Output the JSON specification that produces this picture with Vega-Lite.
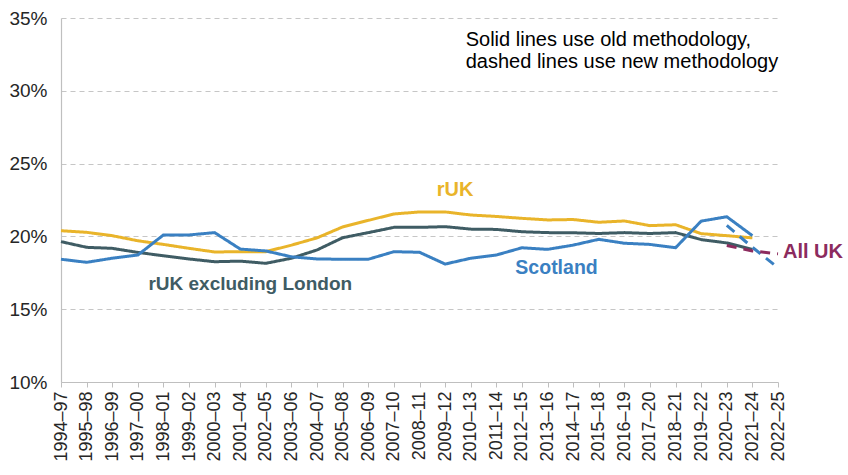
{
  "$schema": "https://vega.github.io/schema/vega-lite/v6.json",
  "autosize": {"type": "none"},
  "padding": {"left": 61, "top": 18, "right": 70, "bottom": 93},
  "width": 717,
  "height": 364,
  "background": "white",
  "config": {
    "view": {"stroke": null},
    "font": "Liberation Sans",
    "axis": {"labelFont": "Liberation Sans", "titleFont": "Liberation Sans"}
  },
  "data": {"values": [
      {"year": "1994–97", "series": "rUK", "method": "old", "value": 20.39},
      {"year": "1995–98", "series": "rUK", "method": "old", "value": 20.28},
      {"year": "1996–99", "series": "rUK", "method": "old", "value": 20.05},
      {"year": "1997–00", "series": "rUK", "method": "old", "value": 19.7},
      {"year": "1998–01", "series": "rUK", "method": "old", "value": 19.45},
      {"year": "1999–02", "series": "rUK", "method": "old", "value": 19.18},
      {"year": "2000–03", "series": "rUK", "method": "old", "value": 18.93},
      {"year": "2001–04", "series": "rUK", "method": "old", "value": 18.95},
      {"year": "2002–05", "series": "rUK", "method": "old", "value": 18.95},
      {"year": "2003–06", "series": "rUK", "method": "old", "value": 19.4},
      {"year": "2004–07", "series": "rUK", "method": "old", "value": 19.9},
      {"year": "2005–08", "series": "rUK", "method": "old", "value": 20.65},
      {"year": "2006–09", "series": "rUK", "method": "old", "value": 21.1},
      {"year": "2007–10", "series": "rUK", "method": "old", "value": 21.54},
      {"year": "2008–11", "series": "rUK", "method": "old", "value": 21.68},
      {"year": "2009–12", "series": "rUK", "method": "old", "value": 21.68},
      {"year": "2010–13", "series": "rUK", "method": "old", "value": 21.47},
      {"year": "2011–14", "series": "rUK", "method": "old", "value": 21.37},
      {"year": "2012–15", "series": "rUK", "method": "old", "value": 21.24},
      {"year": "2013–16", "series": "rUK", "method": "old", "value": 21.13},
      {"year": "2014–17", "series": "rUK", "method": "old", "value": 21.16},
      {"year": "2015–18", "series": "rUK", "method": "old", "value": 20.97},
      {"year": "2016–19", "series": "rUK", "method": "old", "value": 21.06},
      {"year": "2017–20", "series": "rUK", "method": "old", "value": 20.74},
      {"year": "2018–21", "series": "rUK", "method": "old", "value": 20.8},
      {"year": "2019–22", "series": "rUK", "method": "old", "value": 20.19},
      {"year": "2020–23", "series": "rUK", "method": "old", "value": 20.05},
      {"year": "2021–24", "series": "rUK", "method": "old", "value": 19.9},

      {"year": "1994–97", "series": "rUK excluding London", "method": "old", "value": 19.64},
      {"year": "1995–98", "series": "rUK excluding London", "method": "old", "value": 19.25},
      {"year": "1996–99", "series": "rUK excluding London", "method": "old", "value": 19.18},
      {"year": "1997–00", "series": "rUK excluding London", "method": "old", "value": 18.9},
      {"year": "1998–01", "series": "rUK excluding London", "method": "old", "value": 18.67},
      {"year": "1999–02", "series": "rUK excluding London", "method": "old", "value": 18.45},
      {"year": "2000–03", "series": "rUK excluding London", "method": "old", "value": 18.26},
      {"year": "2001–04", "series": "rUK excluding London", "method": "old", "value": 18.3},
      {"year": "2002–05", "series": "rUK excluding London", "method": "old", "value": 18.15},
      {"year": "2003–06", "series": "rUK excluding London", "method": "old", "value": 18.5},
      {"year": "2004–07", "series": "rUK excluding London", "method": "old", "value": 19.07},
      {"year": "2005–08", "series": "rUK excluding London", "method": "old", "value": 19.91},
      {"year": "2006–09", "series": "rUK excluding London", "method": "old", "value": 20.26},
      {"year": "2007–10", "series": "rUK excluding London", "method": "old", "value": 20.62},
      {"year": "2008–11", "series": "rUK excluding London", "method": "old", "value": 20.62},
      {"year": "2009–12", "series": "rUK excluding London", "method": "old", "value": 20.67},
      {"year": "2010–13", "series": "rUK excluding London", "method": "old", "value": 20.5},
      {"year": "2011–14", "series": "rUK excluding London", "method": "old", "value": 20.48},
      {"year": "2012–15", "series": "rUK excluding London", "method": "old", "value": 20.32},
      {"year": "2013–16", "series": "rUK excluding London", "method": "old", "value": 20.26},
      {"year": "2014–17", "series": "rUK excluding London", "method": "old", "value": 20.25},
      {"year": "2015–18", "series": "rUK excluding London", "method": "old", "value": 20.2},
      {"year": "2016–19", "series": "rUK excluding London", "method": "old", "value": 20.26},
      {"year": "2017–20", "series": "rUK excluding London", "method": "old", "value": 20.2},
      {"year": "2018–21", "series": "rUK excluding London", "method": "old", "value": 20.26},
      {"year": "2019–22", "series": "rUK excluding London", "method": "old", "value": 19.78},
      {"year": "2020–23", "series": "rUK excluding London", "method": "old", "value": 19.55},
      {"year": "2021–24", "series": "rUK excluding London", "method": "old", "value": 19.1},

      {"year": "1994–97", "series": "Scotland", "method": "old", "value": 18.43},
      {"year": "1995–98", "series": "Scotland", "method": "old", "value": 18.22},
      {"year": "1996–99", "series": "Scotland", "method": "old", "value": 18.5},
      {"year": "1997–00", "series": "Scotland", "method": "old", "value": 18.72},
      {"year": "1998–01", "series": "Scotland", "method": "old", "value": 20.1},
      {"year": "1999–02", "series": "Scotland", "method": "old", "value": 20.1},
      {"year": "2000–03", "series": "Scotland", "method": "old", "value": 20.26},
      {"year": "2001–04", "series": "Scotland", "method": "old", "value": 19.13},
      {"year": "2002–05", "series": "Scotland", "method": "old", "value": 19.0},
      {"year": "2003–06", "series": "Scotland", "method": "old", "value": 18.6},
      {"year": "2004–07", "series": "Scotland", "method": "old", "value": 18.45},
      {"year": "2005–08", "series": "Scotland", "method": "old", "value": 18.43},
      {"year": "2006–09", "series": "Scotland", "method": "old", "value": 18.43},
      {"year": "2007–10", "series": "Scotland", "method": "old", "value": 18.95},
      {"year": "2008–11", "series": "Scotland", "method": "old", "value": 18.91},
      {"year": "2009–12", "series": "Scotland", "method": "old", "value": 18.1},
      {"year": "2010–13", "series": "Scotland", "method": "old", "value": 18.5},
      {"year": "2011–14", "series": "Scotland", "method": "old", "value": 18.72},
      {"year": "2012–15", "series": "Scotland", "method": "old", "value": 19.22},
      {"year": "2013–16", "series": "Scotland", "method": "old", "value": 19.11},
      {"year": "2014–17", "series": "Scotland", "method": "old", "value": 19.4},
      {"year": "2015–18", "series": "Scotland", "method": "old", "value": 19.8},
      {"year": "2016–19", "series": "Scotland", "method": "old", "value": 19.53},
      {"year": "2017–20", "series": "Scotland", "method": "old", "value": 19.45},
      {"year": "2018–21", "series": "Scotland", "method": "old", "value": 19.22},
      {"year": "2019–22", "series": "Scotland", "method": "old", "value": 21.05},
      {"year": "2020–23", "series": "Scotland", "method": "old", "value": 21.35},
      {"year": "2021–24", "series": "Scotland", "method": "old", "value": 20.05},

      {"year": "2020–23", "series": "Scotland", "method": "new", "value": 20.75},
      {"year": "2021–24", "series": "Scotland", "method": "new", "value": 19.25},
      {"year": "2022–25", "series": "Scotland", "method": "new", "value": 17.85},

      {"year": "2020–23", "series": "All UK", "method": "new", "value": 19.37},
      {"year": "2021–24", "series": "All UK", "method": "new", "value": 19.0},
      {"year": "2022–25", "series": "All UK", "method": "new", "value": 18.8}
  ]},
  "encoding": {
    "x": {
      "field": "year",
      "type": "ordinal",
      "scale": {
        "type": "point",
        "padding": 0,
        "domain": ["1994–97","1995–98","1996–99","1997–00","1998–01","1999–02","2000–03","2001–04","2002–05","2003–06","2004–07","2005–08","2006–09","2007–10","2008–11","2009–12","2010–13","2011–14","2012–15","2013–16","2014–17","2015–18","2016–19","2017–20","2018–21","2019–22","2020–23","2021–24","2022–25"]
      },
      "axis": {
        "title": null,
        "labelAngle": -90,
        "labelAlign": "right",
        "labelBaseline": "middle",
        "labelFontSize": 18,
        "labelColor": "#262626",
        "labelPadding": 4,
        "domainColor": "#bfbfbf",
        "domainWidth": 1.2,
        "tickColor": "#bfbfbf",
        "tickSize": 5,
        "grid": false
      }
    },
    "y": {
      "field": "value",
      "type": "quantitative",
      "scale": {"domain": [10, 35], "nice": false, "zero": false},
      "axis": {
        "title": null,
        "values": [10, 15, 20, 25, 30, 35],
        "labelExpr": "datum.value + '%'",
        "labelFontSize": 19,
        "labelColor": "#262626",
        "labelPadding": 14,
        "ticks": false,
        "domainColor": "#bfbfbf",
        "domainWidth": 1.2,
        "grid": true,
        "gridColor": "#c6c6c6",
        "gridDash": [5, 4],
        "gridWidth": 1.2
      }
    }
  },
  "layer": [
    {
      "mark": {"type": "line", "strokeWidth": 3},
      "encoding": {
        "color": {
          "field": "series",
          "type": "nominal",
          "scale": {
            "domain": ["Scotland", "rUK excluding London", "rUK", "All UK"],
            "range": ["#3a80c2", "#3f5c64", "#e9b42a", "#8c2b5e"]
          },
          "legend": null
        },
        "strokeDash": {
          "field": "method",
          "type": "nominal",
          "scale": {"domain": ["old", "new"], "range": [[1, 0], [10, 7]]},
          "legend": null
        },
        "detail": {"field": "method"}
      }
    },
    {
      "transform": [{"filter": "datum.series == 'All UK' && datum.year == '2022–25'"}],
      "mark": {"type": "text", "text": "rUK", "fontSize": 20, "fontWeight": "bold", "color": "#e9b42a", "align": "center", "baseline": "middle", "dx": 10},
      "encoding": {"x": {"datum": "2009–12"}, "y": {"datum": 23.19}}
    },
    {
      "transform": [{"filter": "datum.series == 'All UK' && datum.year == '2022–25'"}],
      "mark": {"type": "text", "text": "Scotland", "fontSize": 19.5, "fontWeight": "bold", "color": "#3a80c2", "align": "center", "baseline": "middle", "dx": 9},
      "encoding": {"x": {"datum": "2013–16"}, "y": {"datum": 17.83}}
    },
    {
      "transform": [{"filter": "datum.series == 'All UK' && datum.year == '2022–25'"}],
      "mark": {"type": "text", "text": "rUK excluding London", "fontSize": 19, "fontWeight": "bold", "color": "#3f5c64", "align": "center", "baseline": "middle", "dx": 10},
      "encoding": {"x": {"datum": "2001–04"}, "y": {"datum": 16.73}}
    },
    {
      "transform": [{"filter": "datum.series == 'All UK' && datum.year == '2022–25'"}],
      "mark": {"type": "text", "text": "All UK", "fontSize": 20, "fontWeight": "bold", "color": "#8c2b5e", "align": "left", "baseline": "middle", "dx": 5},
      "encoding": {"x": {"datum": "2022–25"}, "y": {"datum": 18.93}}
    },
    {
      "transform": [{"filter": "datum.series == 'All UK' && datum.year == '2022–25'"}],
      "mark": {"type": "text", "text": "Solid lines use old methodology,", "fontSize": 20, "color": "#000000", "align": "left", "baseline": "middle", "dx": -5},
      "encoding": {"x": {"datum": "2010–13"}, "y": {"datum": 33.49}}
    },
    {
      "transform": [{"filter": "datum.series == 'All UK' && datum.year == '2022–25'"}],
      "mark": {"type": "text", "text": "dashed lines use new methodology", "fontSize": 20, "color": "#000000", "align": "left", "baseline": "middle", "dx": -5},
      "encoding": {"x": {"datum": "2010–13"}, "y": {"datum": 31.98}}
    }
  ]
}
